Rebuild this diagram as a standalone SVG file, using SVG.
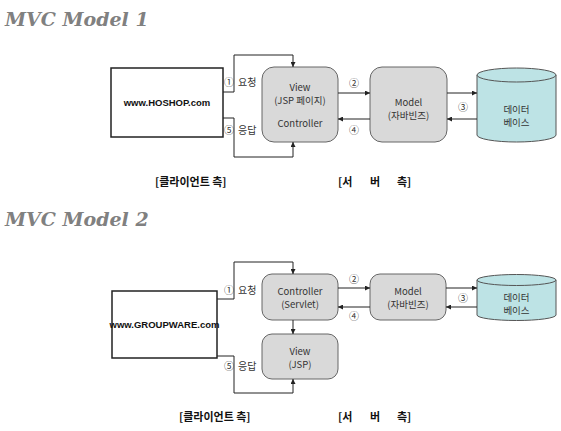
<svg xmlns="http://www.w3.org/2000/svg" width="561" height="431" viewBox="0 0 561 431">
<style>
.title{font-family:"DejaVu Serif",serif;font-weight:bold;font-style:italic;font-size:19px;fill:#808080}
.client{fill:#fff;stroke:#222;stroke-width:1.5}
.box{fill:#d9d9d9;stroke:#666;stroke-width:1}
.db{fill:#bde3e5;stroke:#555;stroke-width:1}
.url{font-family:"Liberation Sans","Noto Sans CJK KR",sans-serif;font-weight:bold;font-size:9.5px;fill:#111;text-anchor:middle}
.lbl{font-family:"Noto Sans CJK KR",sans-serif;font-size:9.5px;fill:#333;text-anchor:middle}
.num{font-family:"Noto Sans CJK KR",sans-serif;font-size:10px;fill:#333}
.foot{font-family:"Noto Sans CJK KR",sans-serif;font-weight:bold;font-size:11px;fill:#111}
.con{fill:none;stroke:#222;stroke-width:1}
</style>
<defs>
<marker id="ah" viewBox="0 0 10 10" refX="10" refY="5" markerWidth="5" markerHeight="5" markerUnits="userSpaceOnUse" orient="auto">
<path d="M0,0 L10,5 L0,10 z" fill="#222"/>
</marker>
</defs>

<text class="title" x="5" y="26">MVC Model 1</text>
<text class="title" x="5" y="226">MVC Model 2</text>

<!-- Model 1 nodes -->
<g id="client1">
<rect class="client" x="111" y="68" width="112" height="69"/>
<text class="url" x="167" y="106">www.HOSHOP.com</text>
</g>
<g id="view1">
<rect class="box" x="262" y="67" width="76" height="75" rx="12"/>
<text class="lbl" x="300" y="91">View</text>
<text class="lbl" x="300" y="104">(JSP 페이지)</text>
<text class="lbl" x="300" y="127">Controller</text>
</g>
<g id="model1">
<rect class="box" x="370" y="67" width="77" height="75" rx="12"/>
<text class="lbl" x="408.5" y="106">Model</text>
<text class="lbl" x="408.5" y="119">(자바빈즈)</text>
</g>
<g id="db1">
<path class="db" d="M477,75 A39.5,7 0 0 1 556,75 L556,135 A39.5,7 0 0 1 477,135 Z"/>
<path class="db" d="M477,75 A39.5,7 0 0 0 556,75"/>
<text class="lbl" x="516.5" y="113">데이터</text>
<text class="lbl" x="516.5" y="126">베이스</text>
</g>

<!-- Model 2 nodes -->
<g id="client2">
<rect class="client" x="112" y="291" width="105" height="67"/>
<text class="url" x="164.5" y="328">www.GROUPWARE.com</text>
</g>
<g id="controller2">
<rect class="box" x="262" y="274" width="76" height="46" rx="10"/>
<text class="lbl" x="300" y="295">Controller</text>
<text class="lbl" x="300" y="308">(Servlet)</text>
</g>
<g id="view2">
<rect class="box" x="262" y="334" width="76" height="45" rx="10"/>
<text class="lbl" x="300" y="355">View</text>
<text class="lbl" x="300" y="368">(JSP)</text>
</g>
<g id="model2">
<rect class="box" x="370" y="274" width="76" height="46" rx="10"/>
<text class="lbl" x="408" y="295">Model</text>
<text class="lbl" x="408" y="308">(자바빈즈)</text>
</g>
<g id="db2">
<path class="db" d="M477,280 A39.5,5.5 0 0 1 556,280 L556,315 A39.5,5.5 0 0 1 477,315 Z"/>
<path class="db" d="M477,280 A39.5,5.5 0 0 0 556,280"/>
<text class="lbl" x="516.5" y="301">데이터</text>
<text class="lbl" x="516.5" y="314">베이스</text>
</g>

<!-- connectors -->
<g id="connectors">
<polyline class="con" points="223,92 234,92 234,55 293,55 293,67" marker-end="url(#ah)"/>
<polyline class="con" points="223,118 234,118 234,157 293,157 293,142" marker-end="url(#ah)"/>
<line class="con" x1="338" y1="93" x2="370" y2="93" marker-end="url(#ah)"/>
<line class="con" x1="370" y1="119" x2="338" y2="119" marker-end="url(#ah)"/>
<line class="con" x1="447" y1="93" x2="477" y2="93" marker-end="url(#ah)"/>
<line class="con" x1="477" y1="119" x2="447" y2="119" marker-end="url(#ah)"/>

<polyline class="con" points="217,299 234,299 234,262 293,262 293,274" marker-end="url(#ah)"/>
<line class="con" x1="293" y1="320" x2="293" y2="334" marker-end="url(#ah)"/>
<polyline class="con" points="217,356 234,356 234,393 293,393 293,379" marker-end="url(#ah)"/>
<line class="con" x1="338" y1="288" x2="370" y2="288" marker-end="url(#ah)"/>
<line class="con" x1="370" y1="307" x2="338" y2="307" marker-end="url(#ah)"/>
<line class="con" x1="446" y1="288" x2="477" y2="288" marker-end="url(#ah)"/>
<line class="con" x1="477" y1="307" x2="446" y2="307" marker-end="url(#ah)"/>

<text class="num" y="86"><tspan x="224">①</tspan><tspan x="238">요청</tspan></text>
<text class="num" y="134"><tspan x="224">⑤</tspan><tspan x="238">응답</tspan></text>
<text class="num" x="349" y="87">②</text>
<text class="num" x="349" y="134">④</text>
<text class="num" x="458" y="111">③</text>

<text class="num" y="294"><tspan x="224">①</tspan><tspan x="238">요청</tspan></text>
<text class="num" y="370"><tspan x="224">⑤</tspan><tspan x="238">응답</tspan></text>
<text class="num" x="349" y="283">②</text>
<text class="num" x="349" y="320">④</text>
<text class="num" x="458" y="302">③</text>
</g>

<text class="foot" x="155" y="186">[클라이언트 측]</text>
<text class="foot" y="186"><tspan x="338">[서</tspan><tspan x="370">버</tspan><tspan x="397">측]</tspan></text>
<text class="foot" x="179" y="421">[클라이언트 측]</text>
<text class="foot" y="421"><tspan x="338">[서</tspan><tspan x="370">버</tspan><tspan x="397">측]</tspan></text>
</svg>
